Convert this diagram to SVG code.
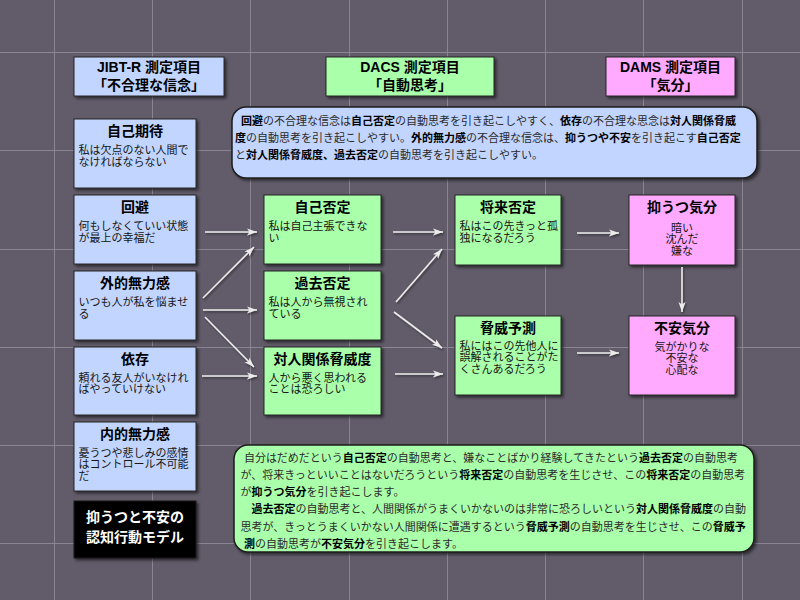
<svg xmlns="http://www.w3.org/2000/svg" width="800" height="600" viewBox="0 0 800 600">
<defs>
<filter id="sh" x="-10%" y="-10%" width="130%" height="135%">
<feDropShadow dx="2" dy="2" stdDeviation="1.5" flood-color="#000" flood-opacity="0.55"/>
</filter>
<filter id="ash" x="-10%" y="-50%" width="130%" height="200%">
<feDropShadow dx="1" dy="1.5" stdDeviation="1" flood-color="#000" flood-opacity="0.5"/>
</filter>
<marker id="ah" viewBox="0 0 10 8" refX="10" refY="4" markerWidth="10" markerHeight="8" markerUnits="userSpaceOnUse" orient="auto">
<path d="M0,0.5 L10,4 L0,7.5 L2.5,4 z" fill="#ececec"/>
</marker>
<style>
text{font-family:"Liberation Sans","Noto Sans CJK JP",sans-serif;}
.grid{stroke:#8a8592;stroke-width:1;}
.box{stroke:#262626;stroke-width:1;filter:url(#sh);}
.blue{fill:#c2d5ff;}
.green{fill:#aaffaa;}
.pink{fill:#ffaaff;}
.hd{font-size:14px;font-weight:bold;fill:#000;text-anchor:middle;}
.t{font-size:14px;font-weight:bold;fill:#000;text-anchor:middle;}
.b{font-size:11px;fill:#151515;}
.c{font-size:11px;fill:#151515;text-anchor:middle;}
.n{font-size:11px;fill:#2a2a2a;}
.n tspan.k{font-weight:bold;fill:#000;}
.note{stroke:#1e1e1e;stroke-width:1.5;filter:url(#sh);}
.conn line{stroke:#ececec;stroke-width:1.6;marker-end:url(#ah);}
.w{font-size:14px;font-weight:bold;fill:#fff;text-anchor:middle;}
</style>
</defs>
<rect width="800" height="600" fill="#625c6a"/>
<g id="grid">
<line class="grid" x1="54.5" y1="0" x2="54.5" y2="600"/>
<line class="grid" x1="152.5" y1="0" x2="152.5" y2="600"/>
<line class="grid" x1="250.5" y1="0" x2="250.5" y2="600"/>
<line class="grid" x1="349.5" y1="0" x2="349.5" y2="600"/>
<line class="grid" x1="447.5" y1="0" x2="447.5" y2="600"/>
<line class="grid" x1="545.5" y1="0" x2="545.5" y2="600"/>
<line class="grid" x1="643.5" y1="0" x2="643.5" y2="600"/>
<line class="grid" x1="742.5" y1="0" x2="742.5" y2="600"/>
<line class="grid" x1="0" y1="52.5" x2="800" y2="52.5"/>
<line class="grid" x1="0" y1="150.5" x2="800" y2="150.5"/>
<line class="grid" x1="0" y1="249.5" x2="800" y2="249.5"/>
<line class="grid" x1="0" y1="347.5" x2="800" y2="347.5"/>
<line class="grid" x1="0" y1="445.5" x2="800" y2="445.5"/>
<line class="grid" x1="0" y1="543.5" x2="800" y2="543.5"/>
</g>

<g id="hdr-jibt">
<rect class="box blue" x="74" y="57" width="150" height="39"/>
<text class="hd" x="149" y="72">JIBT-R 測定項目</text>
<text class="hd" x="149" y="89.5">「不合理な信念」</text>
</g>
<g id="hdr-dacs">
<rect class="box green" x="326" y="57" width="168" height="39"/>
<text class="hd" x="410" y="72">DACS 測定項目</text>
<text class="hd" x="410" y="89.5">「自動思考」</text>
</g>
<g id="hdr-dams">
<rect class="box pink" x="606" y="57" width="129" height="39"/>
<text class="hd" x="670.5" y="72">DAMS 測定項目</text>
<text class="hd" x="670.5" y="89.5">「気分」</text>
</g>

<g id="note-top">
<rect class="note blue" x="232" y="107" width="525" height="71" rx="14"/>
<text class="n" x="241" y="125"><tspan class="k">回避</tspan>の不合理な信念は<tspan class="k">自己否定</tspan>の自動思考を引き起こしやすく、<tspan class="k">依存</tspan>の不合理な思念は<tspan class="k">対人関係脅威</tspan></text>
<text class="n" x="235" y="142.2"><tspan class="k">度</tspan>の自動思考を引き起こしやすい。<tspan class="k">外的無力感</tspan>の不合理な信念は、<tspan class="k">抑うつや不安</tspan>を引き起こす<tspan class="k">自己否定</tspan></text>
<text class="n" x="235" y="159.4">と<tspan class="k">対人関係脅威度、過去否定</tspan>の自動思考を引き起こしやすい。</text>
</g>

<g id="n-jiko-kitai">
<rect class="box blue" x="74" y="119" width="122" height="69"/>
<text class="t" x="135" y="136.3">自己期待</text>
<text class="b" x="78.5" y="154">私は欠点のない人間で</text>
<text class="b" x="78.5" y="165.5">なければならない</text>
</g>
<g id="n-kaihi">
<rect class="box blue" x="74" y="195" width="122" height="69"/>
<text class="t" x="135" y="212.3">回避</text>
<text class="b" x="78.5" y="230">何もしなくていい状態</text>
<text class="b" x="78.5" y="241.5">が最上の幸福だ</text>
</g>
<g id="n-gaiteki">
<rect class="box blue" x="74" y="271" width="122" height="69"/>
<text class="t" x="135" y="288.3">外的無力感</text>
<text class="b" x="78.5" y="306">いつも人が私を悩ませ</text>
<text class="b" x="78.5" y="317.5">る</text>
</g>
<g id="n-izon">
<rect class="box blue" x="74" y="347" width="122" height="68"/>
<text class="t" x="135" y="364.3">依存</text>
<text class="b" x="78.5" y="381.5">頼れる友人がいなけれ</text>
<text class="b" x="78.5" y="393">ばやっていけない</text>
</g>
<g id="n-naiteki">
<rect class="box blue" x="74" y="422" width="122" height="69"/>
<text class="t" x="135" y="439.3">内的無力感</text>
<text class="b" x="78.5" y="456.5">憂うつや悲しみの感情</text>
<text class="b" x="78.5" y="468">はコントロール不可能</text>
<text class="b" x="78.5" y="479.5">だ</text>
</g>
<g id="title-box">
<rect x="74" y="501" width="122" height="57" fill="#000" stroke="#1a1a1a" filter="url(#sh)"/>
<text class="w" x="135" y="522">抑うつと不安の</text>
<text class="w" x="135" y="542">認知行動モデル</text>
</g>

<g id="n-jiko-hitei">
<rect class="box green" x="264" y="195" width="117" height="69"/>
<text class="t" x="322.5" y="212.3">自己否定</text>
<text class="b" x="268.5" y="230">私は自己主張できな</text>
<text class="b" x="268.5" y="241.5">い</text>
</g>
<g id="n-kako-hitei">
<rect class="box green" x="264" y="271" width="117" height="69"/>
<text class="t" x="322.5" y="288.3">過去否定</text>
<text class="b" x="268.5" y="306">私は人から無視され</text>
<text class="b" x="268.5" y="317.5">ている</text>
</g>
<g id="n-taijin">
<rect class="box green" x="264" y="347" width="117" height="68"/>
<text class="t" x="322.5" y="364.3">対人関係脅威度</text>
<text class="b" x="268.5" y="381.5">人から悪く思われる</text>
<text class="b" x="268.5" y="393">ことは恐ろしい</text>
</g>
<g id="n-shorai-hitei">
<rect class="box green" x="455" y="195" width="106" height="70"/>
<text class="t" x="508" y="212.3">将来否定</text>
<text class="b" x="459.5" y="230">私はこの先きっと孤</text>
<text class="b" x="459.5" y="241.5">独になるだろう</text>
</g>
<g id="n-kyoi-yosoku">
<rect class="box green" x="455" y="316" width="106" height="79"/>
<text class="t" x="508" y="333.3">脅威予測</text>
<text class="b" x="459.5" y="349.5">私にはこの先他人に</text>
<text class="b" x="459.5" y="361">誤解されることがた</text>
<text class="b" x="459.5" y="372.5">くさんあるだろう</text>
</g>
<g id="n-yokuutsu">
<rect class="box pink" x="629" y="195" width="106" height="70"/>
<text class="t" x="682" y="212.3">抑うつ気分</text>
<text class="c" x="682" y="231.5">暗い</text>
<text class="c" x="682" y="243">沈んだ</text>
<text class="c" x="682" y="254.5">嫌な</text>
</g>
<g id="n-fuan">
<rect class="box pink" x="629" y="316" width="106" height="79"/>
<text class="t" x="682" y="333.3">不安気分</text>
<text class="c" x="682" y="350.5">気がかりな</text>
<text class="c" x="682" y="362">不安な</text>
<text class="c" x="682" y="373.5">心配な</text>
</g>

<g id="connectors" class="conn" filter="url(#ash)">
<line x1="205" y1="232" x2="257" y2="232"/>
<line x1="203" y1="298" x2="254" y2="247"/>
<line x1="203" y1="310" x2="257" y2="310"/>
<line x1="205" y1="317" x2="254" y2="367"/>
<line x1="202" y1="376" x2="257" y2="376"/>
<line x1="393" y1="232" x2="443" y2="232"/>
<line x1="396" y1="302" x2="442" y2="249"/>
<line x1="394" y1="312" x2="442" y2="348"/>
<line x1="395" y1="374" x2="443" y2="374"/>
<line x1="577" y1="233" x2="619" y2="233"/>
<line x1="682" y1="267" x2="682" y2="312"/>
<line x1="577" y1="353" x2="619" y2="353"/>
</g>

<g id="note-bottom">
<rect class="note green" x="234" y="445" width="520" height="107" rx="14"/>
<text class="n" x="244" y="461.7">自分はだめだという<tspan class="k">自己否定</tspan>の自動思考と、嫌なことばかり経験してきたという<tspan class="k">過去否定</tspan>の自動思考</text>
<text class="n" x="240.5" y="478.9">が、将来きっといいことはないだろうという<tspan class="k">将来否定</tspan>の自動思考を生じさせ、この<tspan class="k">将来否定</tspan>の自動思考</text>
<text class="n" x="240.5" y="496.1">が<tspan class="k">抑うつ気分</tspan>を引き起こします。</text>
<text class="n" x="251.5" y="513.3"><tspan class="k">過去否定</tspan>の自動思考と、人間関係がうまくいかないのは非常に恐ろしいという<tspan class="k">対人関係脅威度</tspan>の自動</text>
<text class="n" x="240.5" y="530.5">思考が、きっとうまくいかない人間関係に遭遇するという<tspan class="k">脅威予測</tspan>の自動思考を生じさせ、この<tspan class="k">脅威予</tspan></text>
<text class="n" x="244" y="547.7"><tspan class="k">測</tspan>の自動思考が<tspan class="k">不安気分</tspan>を引き起こします。</text>
</g>
</svg>
